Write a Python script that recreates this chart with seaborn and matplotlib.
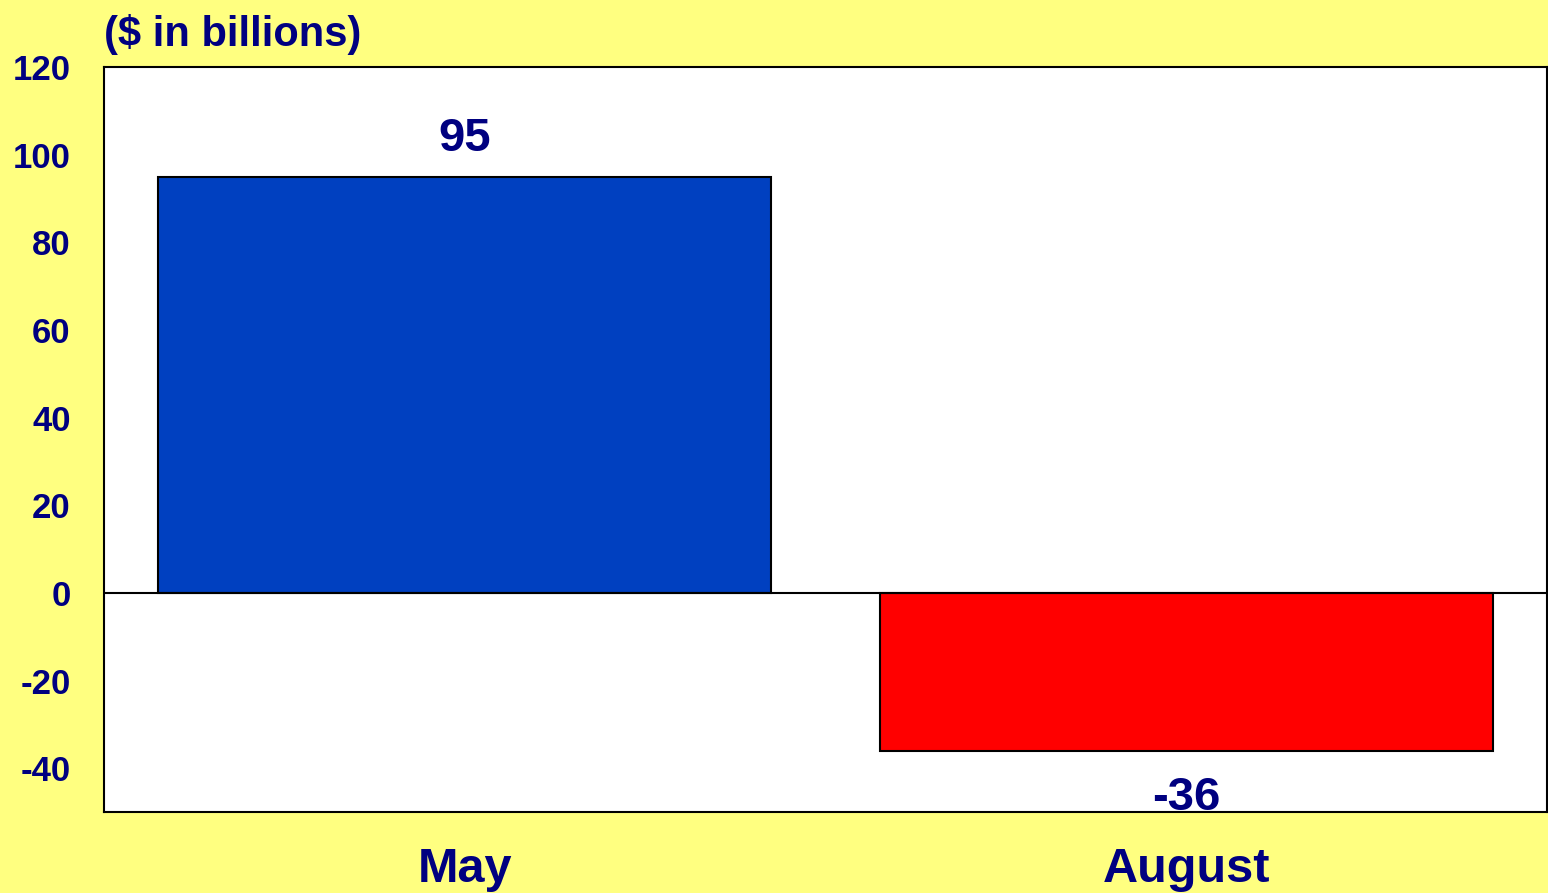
import matplotlib
matplotlib.use("Agg")
import matplotlib.pyplot as plt
import seaborn as sns
import pandas as pd

# data
months = ["May", "August"]
values = [95, -36]
bar_colors = ["#0040C0", "#FF0000"]
y_ticks = [-40, -20, 0, 20, 40, 60, 80, 100, 120]

navy = "#000080"
bg = "#FFFF80"

sns.set_theme(style="white")
plt.rcParams["font.family"] = ["Liberation Sans", "DejaVu Sans"]
plt.rcParams["font.weight"] = "bold"

df = pd.DataFrame({"month": months, "value": values})

fig = plt.figure(figsize=(15.48, 8.93), dpi=100, facecolor=bg)
ax = fig.add_axes([104 / 1548, 81 / 893, 1443 / 1548, 745 / 893])
ax.set_facecolor("white")

sns.barplot(data=df, x="month", y="value", hue="month", palette=bar_colors,
            saturation=1, width=0.85, edgecolor="black", linewidth=1.5,
            legend=False, ax=ax)

ax.axhline(0, color="black", linewidth=1.5, zorder=3)
ax.set_xlim(-0.5, 1.5)
ax.set_ylim(-50, 120)
ax.set_yticks(y_ticks)
ax.set_yticklabels([str(t) for t in y_ticks])

for s in ax.spines.values():
    s.set_visible(True)
    s.set_color("black")
    s.set_linewidth(1.5)

ax.tick_params(axis="y", length=0, pad=24, labelsize=25, labelcolor=navy)
ax.tick_params(axis="x", length=0, pad=25, labelsize=35, labelcolor=navy)
for lab in ax.get_xticklabels() + ax.get_yticklabels():
    lab.set_fontweight("bold")
ax.set_xlabel("")
ax.set_ylabel("")

for cont in ax.containers:
    pad = 11 if cont.datavalues[0] >= 0 else 18
    ax.bar_label(cont, labels=[f"{v:g}" for v in cont.datavalues], padding=pad,
                 fontsize=34, fontweight="bold", color=navy)

fig.text(104 / 1548, 1 - 46 / 893, "($ in billions)", fontsize=30,
         fontweight="bold", color=navy, ha="left", va="baseline")

fig.savefig("out.png", dpi=100, facecolor=bg)
